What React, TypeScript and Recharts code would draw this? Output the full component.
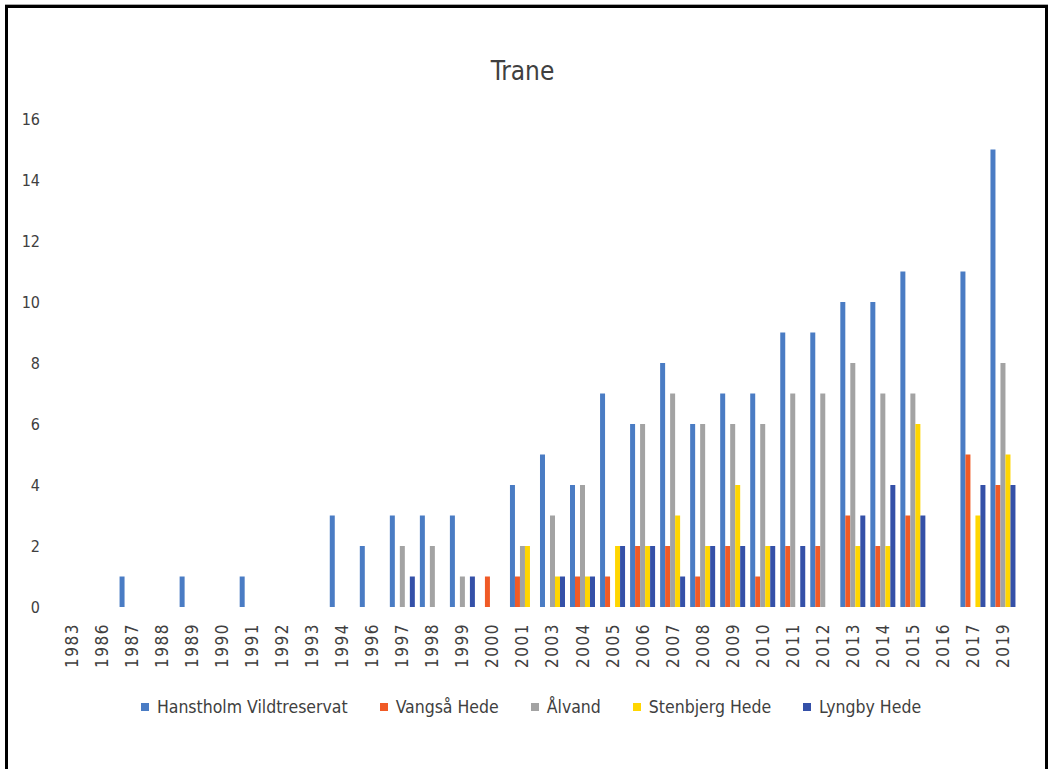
import React from "react";
import { BarChart, Bar, XAxis, YAxis } from "recharts";

const years = [
  "1983", "1986", "1987", "1988", "1989", "1990", "1991", "1992", "1993", "1994",
  "1996", "1997", "1998", "1999", "2000", "2001", "2003", "2004", "2005", "2006",
  "2007", "2008", "2009", "2010", "2011", "2012", "2013", "2014", "2015", "2016",
  "2017", "2019",
];

const hanstholm = [0, 0, 1, 0, 1, 0, 1, 0, 0, 3, 2, 3, 3, 3, 0, 4, 5, 4, 7, 6, 8, 6, 7, 7, 9, 9, 10, 10, 11, 0, 11, 15];
const vangsaa = [0, 0, 0, 0, 0, 0, 0, 0, 0, 0, 0, 0, 0, 0, 1, 1, 0, 1, 1, 2, 2, 1, 2, 1, 2, 2, 3, 2, 3, 0, 5, 4];
const aalvand = [0, 0, 0, 0, 0, 0, 0, 0, 0, 0, 0, 2, 2, 1, 0, 2, 3, 4, 0, 6, 7, 6, 6, 6, 7, 7, 8, 7, 7, 0, 0, 8];
const stenbjerg = [0, 0, 0, 0, 0, 0, 0, 0, 0, 0, 0, 0, 0, 0, 0, 2, 1, 1, 2, 2, 3, 2, 4, 2, 0, 0, 2, 2, 6, 0, 3, 5];
const lyngby = [0, 0, 0, 0, 0, 0, 0, 0, 0, 0, 0, 1, 0, 1, 0, 0, 1, 1, 2, 2, 1, 2, 2, 2, 2, 0, 3, 4, 3, 0, 4, 4];

const yTicks = [0, 2, 4, 6, 8, 10, 12, 14, 16];

const series = [
  { key: "hanstholm", name: "Hanstholm Vildtreservat", color: "#4A7CC4", values: hanstholm },
  { key: "vangsaa", name: "Vangså Hede", color: "#F05A26", values: vangsaa },
  { key: "aalvand", name: "Ålvand", color: "#A3A3A3", values: aalvand },
  { key: "stenbjerg", name: "Stenbjerg Hede", color: "#FFD600", values: stenbjerg },
  { key: "lyngby", name: "Lyngby Hede", color: "#3450A8", values: lyngby },
];

const data = years.map((year, i) => {
  const row: Record<string, string | number> = { year };
  series.forEach((s) => {
    row[s.key] = s.values[i];
  });
  return row;
});

const FONT = '"DejaVu Sans Condensed", "DejaVu Sans", sans-serif';
const TEXT = "#404040";

function YTick({ y, payload }: any) {
  return (
    <text x={40} y={y} dy="0.35em" textAnchor="end" fill={TEXT} fontSize={16} fontFamily={FONT}>
      {payload.value}
    </text>
  );
}

function XTick({ x, y, payload }: any) {
  return (
    <text
      transform={`translate(${x}, ${y + 8}) rotate(-90)`}
      dy="0.35em"
      textAnchor="end"
      fill={TEXT}
      fontSize={17}
      letterSpacing={1.5}
      fontFamily={FONT}
    >
      {payload.value}
    </text>
  );
}

export default function App() {
  return (
    <div style={{ position: "absolute", left: 0, top: 0, width: 1051, height: 769, overflow: "hidden", background: "#fff" }}>
      <div
        style={{
          position: "absolute",
          left: 5,
          top: 5,
          width: 1037,
          height: 800,
          borderTop: "3px solid #000",
          borderLeft: "3px solid #000",
          borderRight: "3px solid #000",
          boxShadow: "0 -1px 0 #aaa",
        }}
      />
      <div
        style={{
          position: "absolute",
          left: 0,
          top: 56,
          width: 1045,
          textAlign: "center",
          fontFamily: FONT,
          fontSize: 26,
          color: TEXT,
        }}
      >
        Trane
      </div>
      <div style={{ position: "absolute", left: 0, top: 0 }}>
        <BarChart
          width={1051}
          height={769}
          data={data}
          margin={{ top: 119, right: 33, left: 0, bottom: 102 }}
          barCategoryGap="8.3%"
          barGap={0}
        >
          <XAxis
            dataKey="year"
            interval={0}
            axisLine={false}
            tickLine={false}
            height={60}
            tick={<XTick />}
          />
          <YAxis
            width={57}
            domain={[0, 16]}
            ticks={yTicks}
            axisLine={false}
            tickLine={false}
            tick={<YTick />}
          />
          {series.map((s) => (
            <Bar key={s.key} dataKey={s.key} name={s.name} fill={s.color} isAnimationActive={false} />
          ))}
        </BarChart>
      </div>
      <div
        style={{
          position: "absolute",
          left: 0,
          top: 697,
          width: 1062,
          display: "flex",
          justifyContent: "center",
          gap: 32,
          fontFamily: FONT,
          fontSize: 17.5,
          color: TEXT,
        }}
      >
        {series.map((s) => (
          <div key={s.key} style={{ display: "flex", alignItems: "center", gap: 8 }}>
            <span style={{ display: "inline-block", width: 8, height: 8, background: s.color }} />
            <span>{s.name}</span>
          </div>
        ))}
      </div>
    </div>
  );
}
